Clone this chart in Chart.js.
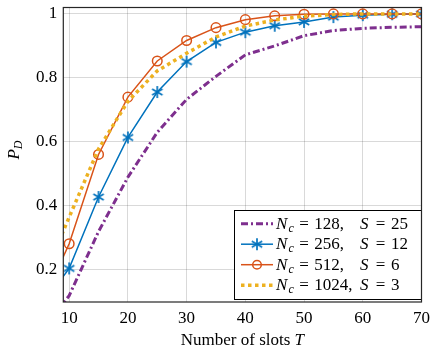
<!DOCTYPE html>
<html>
<head>
<meta charset="utf-8">
<script src="https://cdn.jsdelivr.net/npm/chart.js@4/dist/chart.umd.min.js"></script>
<style>
  html, body { margin: 0; padding: 0; background: #fff; }
  #wrap { width: 437px; height: 352px; }
</style>
</head>
<body>
<div id="wrap"><canvas id="chart" width="437" height="352"></canvas></div>
<script>
// Number of slots T (5 lies left of the axis and is clipped)
const slots = [5, 10, 15, 20, 25, 30, 35, 40, 45, 50, 55, 60, 65, 70];

// P_D for each configuration
const pd128 = [0.0, 0.12, 0.32, 0.49, 0.63, 0.733, 0.805, 0.872, 0.9, 0.932, 0.948, 0.955, 0.958, 0.96];
const pd256 = [0.08, 0.205, 0.428, 0.614, 0.756, 0.851, 0.911, 0.943, 0.963, 0.975, 0.99, 0.996, 0.999, 1.0];
const pd512 = [0.08, 0.282, 0.561, 0.74, 0.853, 0.917, 0.957, 0.982, 0.994, 0.999, 1.0, 1.0, 1.0, 1.0];
const pd1024 = [0.15, 0.365, 0.578, 0.727, 0.822, 0.877, 0.928, 0.962, 0.981, 0.993, 0.998, 1.0, 1.0, 1.0];

const legendRows = [
    { nc: '128,', s: '25' },
    { nc: '256,', s: '12' },
    { nc: '512,', s: '6' },
    { nc: '1024,', s: '3' }
];

const xTicks = [10, 20, 30, 40, 50, 60, 70];
const yTicks = [0.2, 0.4, 0.6, 0.8, 1];

const FONT = 'Liberation Serif';
const PURPLE = '#7E2F8E', BLUE = '#0072BD', ORANGE = '#D95319', YELLOW = '#EDB120';

// asterisk marker (6 spokes)
function makeStar(color) {
    const c = document.createElement('canvas');
    c.width = 14; c.height = 14;
    const g = c.getContext('2d');
    g.strokeStyle = color;
    g.lineWidth = 1.7;
    const r = 6, cx = 7, cy = 7;
    [90, 30, 150].forEach(a => {
        const rad = a * Math.PI / 180;
        g.beginPath();
        g.moveTo(cx - r * Math.cos(rad), cy - r * Math.sin(rad));
        g.lineTo(cx + r * Math.cos(rad), cy + r * Math.sin(rad));
        g.stroke();
    });
    return c;
}
const starImg = makeStar(BLUE);

function pts(arr) {
    return slots.map((t, i) => ({ x: t, y: arr[i] }));
}

// Рисуем подписи, легенду и рамку
const decor = {
    id: 'decor',
    afterDatasetsDraw(chart) {
        const ctx = chart.ctx, a = chart.chartArea;
        ctx.save();

        // legend box
        const lx = 234, ly = 210, lw = 187, lh = 89;
        ctx.fillStyle = '#fff';
        ctx.fillRect(lx, ly, lw, lh);
        ctx.strokeStyle = '#000';
        ctx.lineWidth = 1;
        ctx.strokeRect(lx + 0.5, ly + 0.5, lw, lh);

        const baseY = [228.5, 249, 269.5, 290];
        const styles = [
            { color: PURPLE, width: 3, dash: [7, 3, 2, 3] },
            { color: BLUE, width: 1.5, dash: [], mark: 'star' },
            { color: ORANGE, width: 1.5, dash: [], mark: 'circle' },
            { color: YELLOW, width: 3.5, dash: [3.5, 3.5] }
        ];
        legendRows.forEach((row, i) => {
            const base = baseY[i], y = base - 4.8, st = styles[i];
            ctx.strokeStyle = st.color;
            ctx.lineWidth = st.width;
            ctx.setLineDash(st.dash);
            ctx.beginPath();
            ctx.moveTo(241, y);
            ctx.lineTo(273, y);
            ctx.stroke();
            ctx.setLineDash([]);
            if (st.mark === 'star') ctx.drawImage(starImg, 257 - 7, y - 7);
            if (st.mark === 'circle') {
                ctx.lineWidth = 1.5;
                ctx.beginPath();
                ctx.arc(257, y, 4.3, 0, Math.PI * 2);
                ctx.stroke();
            }

            ctx.fillStyle = '#000';
            ctx.textBaseline = 'alphabetic';
            ctx.textAlign = 'left';
            ctx.font = 'italic 17px ' + FONT;
            ctx.fillText('N', 276, base);
            ctx.font = 'italic 12px ' + FONT;
            ctx.fillText('c', 288.5, base + 3);
            ctx.font = '17px ' + FONT;
            ctx.fillText('=', 299.3, base);
            ctx.fillText(row.nc, 314.3, base);
            ctx.font = 'italic 17px ' + FONT;
            ctx.fillText('S', 360, base);
            ctx.font = '17px ' + FONT;
            ctx.fillText('=', 375.7, base);
            ctx.fillText(row.s, 391, base);
        });

        // frame
        ctx.strokeStyle = '#262626';
        ctx.lineWidth = 1.2;
        ctx.strokeRect(a.left, a.top, a.right - a.left, a.bottom - a.top);
        ctx.restore();
    },
    afterDraw(chart) {
        const ctx = chart.ctx, a = chart.chartArea;
        ctx.save();
        ctx.fillStyle = '#000';
        ctx.textBaseline = 'alphabetic';
        ctx.textAlign = 'left';

        // x title
        ctx.font = '17px ' + FONT;
        const t1 = 'Number of slots ';
        const w1 = ctx.measureText(t1).width;
        ctx.font = 'italic 17px ' + FONT;
        const w2 = ctx.measureText('T').width;
        const cx = (a.left + a.right) / 2;
        let x0 = cx - (w1 + w2) / 2;
        ctx.font = '17px ' + FONT;
        ctx.fillText(t1, x0, 345);
        ctx.font = 'italic 17px ' + FONT;
        ctx.fillText('T', x0 + w1, 345);

        // y title P_D
        ctx.translate(18.5, 150);
        ctx.rotate(-Math.PI / 2);
        ctx.font = 'italic 17px ' + FONT;
        const wp = ctx.measureText('P').width;
        ctx.font = 'italic 12px ' + FONT;
        const wd = ctx.measureText('D').width;
        const sx = -(wp + wd) / 2;
        ctx.font = 'italic 17px ' + FONT;
        ctx.fillText('P', sx, 0);
        ctx.font = 'italic 12px ' + FONT;
        ctx.fillText('D', sx + wp, 3.5);
        ctx.restore();
    }
};

const ctx = document.getElementById('chart').getContext('2d');
const chart = new Chart(ctx, {
    type: 'line',
    data: {
        datasets: [
            {
                label: 'N_c = 128, S = 25',
                data: pts(pd128),
                borderColor: PURPLE,
                borderWidth: 3,
                borderDash: [7, 3, 2, 3],
                pointRadius: 0,
                order: 4
            },
            {
                label: 'N_c = 256, S = 12',
                data: pts(pd256),
                borderColor: BLUE,
                borderWidth: 1.5,
                pointStyle: starImg,
                pointRadius: 6,
                order: 3
            },
            {
                label: 'N_c = 512, S = 6',
                data: pts(pd512),
                borderColor: ORANGE,
                borderWidth: 1.5,
                pointStyle: 'circle',
                pointRadius: 4.8,
                pointBorderWidth: 1.5,
                pointBorderColor: ORANGE,
                pointBackgroundColor: 'rgba(0,0,0,0)',
                order: 2
            },
            {
                label: 'N_c = 1024, S = 3',
                data: pts(pd1024),
                borderColor: YELLOW,
                borderWidth: 3.5,
                borderDash: [3.5, 3.5],
                pointRadius: 0,
                order: 1
            }
        ]
    },
    options: {
        responsive: false,
        animation: false,
        devicePixelRatio: 1,
        layout: { padding: { left: 0, top: 5.5, right: 15.5, bottom: 0 } },
        elements: { line: { tension: 0, fill: false } },
        plugins: {
            legend: { display: false },
            tooltip: { enabled: false }
        },
        scales: {
            x: {
                type: 'linear',
                min: 9,
                max: 70,
                afterBuildTicks: s => { s.ticks = xTicks.map(v => ({ value: v })); },
                afterFit: s => { s.height = 50; s.paddingLeft = 0; s.paddingRight = 0; },
                grid: { color: 'rgba(0,0,0,0.15)', lineWidth: 1, drawTicks: false },
                border: { display: false },
                ticks: {
                    font: { family: FONT, size: 17 },
                    color: '#000',
                    padding: 6,
                    maxRotation: 0,
                    callback: v => String(v)
                }
            },
            y: {
                type: 'linear',
                min: 0.1,
                max: 1.02,
                afterBuildTicks: s => { s.ticks = yTicks.map(v => ({ value: v })); },
                afterFit: s => { s.width = 63.3; s.paddingTop = 0; s.paddingBottom = 0; },
                grid: { color: 'rgba(0,0,0,0.15)', lineWidth: 1, drawTicks: false },
                border: { display: false },
                ticks: {
                    font: { family: FONT, size: 17 },
                    color: '#000',
                    padding: 6,
                    callback: v => (v === 1 ? '1' : v.toFixed(1))
                }
            }
        }
    },
    plugins: [decor]
});
</script>
</body>
</html>
